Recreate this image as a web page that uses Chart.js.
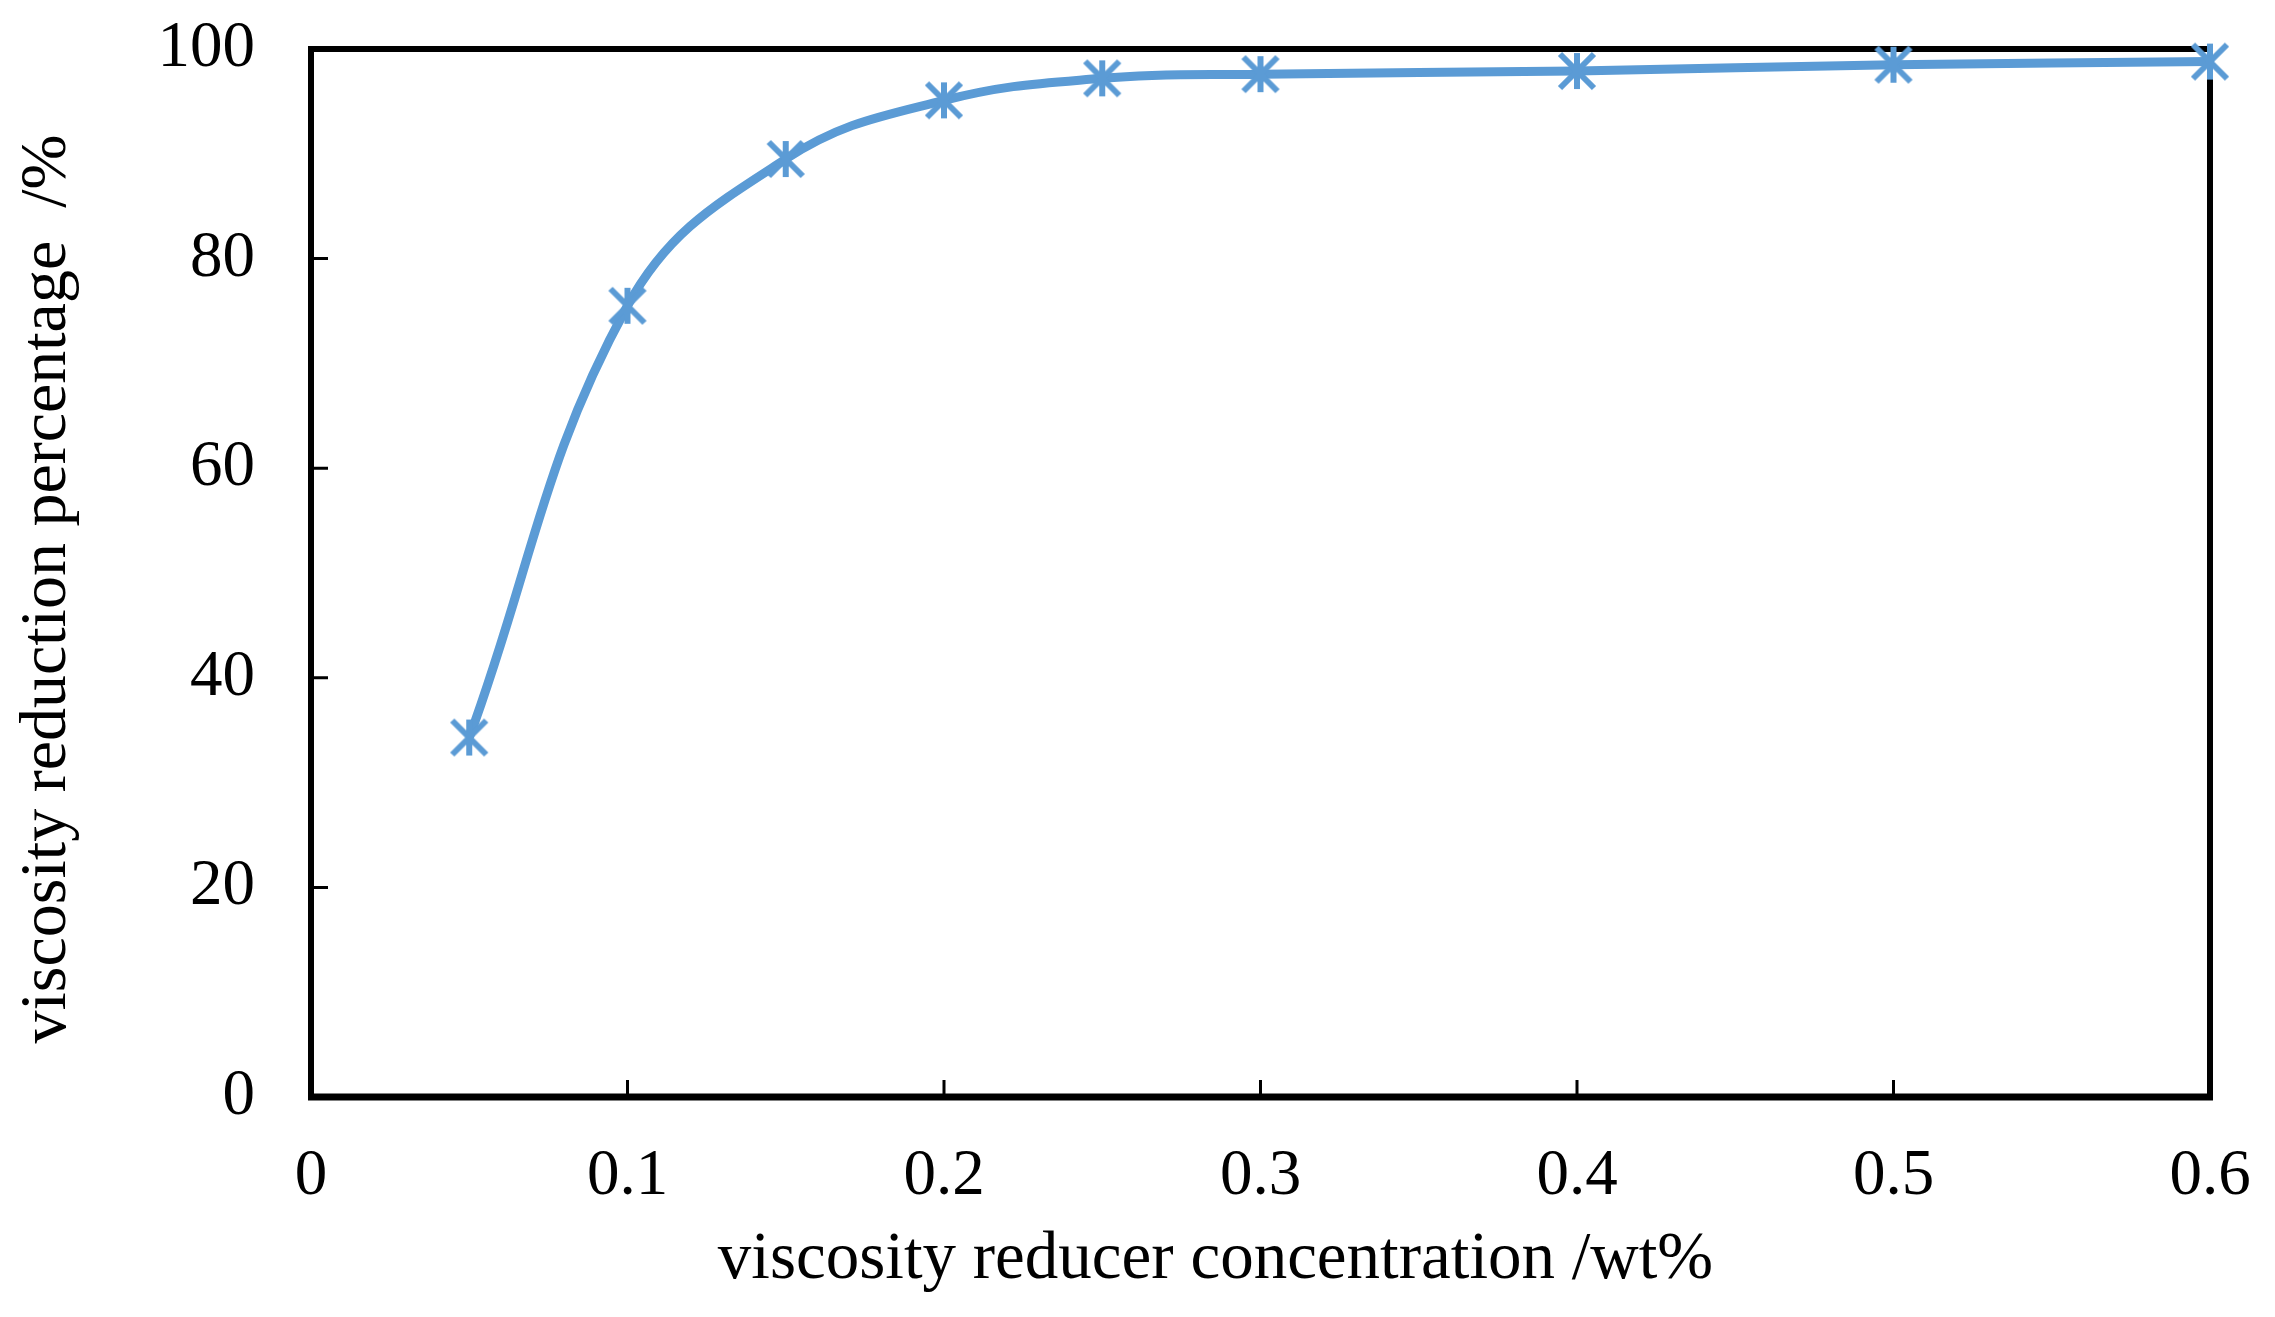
<!DOCTYPE html>
<html>
<head>
<meta charset="utf-8">
<script src="https://cdn.jsdelivr.net/npm/chart.js@4.4.1/dist/chart.umd.min.js"></script>
<style>
  html, body { margin: 0; padding: 0; background: #ffffff; }
  #wrap { width: 2275px; height: 1317px; }
</style>
</head>
<body>
<div id="wrap"><canvas id="c" width="2275" height="1317"></canvas></div>
<script>
// ---- data ----
const concentrations = [0.05, 0.1, 0.15, 0.2, 0.25, 0.3, 0.4, 0.5, 0.6];
const reductionPct   = [34.3, 75.5, 89.5, 95.1, 97.2, 97.6, 97.9, 98.5, 98.8];
const xTickValues = [0, 0.1, 0.2, 0.3, 0.4, 0.5, 0.6];
const xTickLabels = ['0', '0.1', '0.2', '0.3', '0.4', '0.5', '0.6'];
const yTickValues = [0, 20, 40, 60, 80, 100];
const yTickLabels = ['0', '20', '40', '60', '80', '100'];
const xTitle = 'viscosity reducer concentration /wt%';
const yTitle = 'viscosity reduction percentage  /%';

const BLUE = '#5B9BD5';
const FONT = '"Liberation Serif", "Times New Roman", serif';

// asterisk marker image
function makeAsterisk() {
  const s = 48, c = s / 2;
  const cv = document.createElement('canvas');
  cv.width = s; cv.height = s;
  const g = cv.getContext('2d');
  g.strokeStyle = BLUE;
  g.lineWidth = 6;
  g.lineCap = 'butt';
  g.beginPath();
  g.moveTo(c, c - 18); g.lineTo(c, c + 18);
  g.moveTo(c - 17, c - 17); g.lineTo(c + 17, c + 17);
  g.moveTo(c + 17, c - 17); g.lineTo(c - 17, c + 17);
  g.stroke();
  return cv;
}
const marker = makeAsterisk();

const framePlugin = {
  id: 'frame',
  beforeDatasetsDraw(chart) {
    const { ctx, chartArea: a, scales } = chart;
    ctx.save();
    ctx.strokeStyle = '#000';
    ctx.lineWidth = 3;
    ctx.beginPath();
    yTickValues.forEach(v => {
      if (v === 0 || v === 100) return;
      const y = scales.y.getPixelForValue(v);
      ctx.moveTo(a.left, y); ctx.lineTo(a.left + 17, y);
    });
    xTickValues.forEach(v => {
      if (v === 0 || v === 0.6) return;
      const x = scales.x.getPixelForValue(v);
      ctx.moveTo(x, a.bottom); ctx.lineTo(x, a.bottom - 17);
    });
    ctx.stroke();
    ctx.lineWidth = 6;
    ctx.strokeRect(a.left, a.top, a.right - a.left, a.bottom - a.top);
    ctx.lineWidth = 7;
    ctx.beginPath();
    ctx.moveTo(a.left - 3, a.bottom); ctx.lineTo(a.right + 3, a.bottom);
    ctx.stroke();
    ctx.restore();
  },
  afterDraw(chart) {
    const { ctx, chartArea: a } = chart;
    ctx.save();
    ctx.fillStyle = '#000';
    ctx.textAlign = 'center';
    ctx.textBaseline = 'middle';
    // x-axis title
    ctx.font = '67px ' + FONT;
    ctx.fillText(xTitle, (a.left + a.right) / 2 - 45, 1260);
    // y-axis title
    ctx.font = '66px ' + FONT;
    ctx.translate(48, (a.top + a.bottom) / 2 + 16);
    ctx.rotate(-Math.PI / 2);
    ctx.fillText(yTitle, 0, 0);
    ctx.restore();
  }
};

new Chart(document.getElementById('c'), {
  type: 'line',
  data: {
    datasets: [{
      data: concentrations.map((x, i) => ({ x: x, y: reductionPct[i] })),
      borderColor: BLUE,
      backgroundColor: BLUE,
      borderWidth: 9,
      tension: 0.4,
      pointStyle: marker,
      pointRadius: 18,
      clip: false,
      fill: false
    }]
  },
  options: {
    responsive: false,
    animation: false,
    devicePixelRatio: 1,
    layout: { padding: { left: 0, top: 49, right: 65, bottom: 0 } },
    plugins: { legend: { display: false }, tooltip: { enabled: false } },
    scales: {
      x: {
        type: 'linear',
        min: 0, max: 0.6,
        afterBuildTicks: s => { s.ticks = xTickValues.map(v => ({ value: v })); },
        afterFit: s => { s.height = 220; },
        grid: { display: false, drawTicks: true, tickLength: 41 },
        border: { display: false },
        ticks: {
          padding: 0,
          color: '#000',
          font: { family: FONT, size: 65 },
          maxRotation: 0,
          callback: (v, i) => xTickLabels[i]
        },
        title: { display: false }
      },
      y: {
        type: 'linear',
        min: 0, max: 100,
        afterBuildTicks: s => { s.ticks = yTickValues.map(v => ({ value: v })); },
        afterFit: s => { s.width = 311; },
        grid: { display: false, drawTicks: true, tickLength: 56 },
        border: { display: false },
        ticks: {
          padding: 0,
          color: '#000',
          font: { family: FONT, size: 65 },
          callback: (v, i) => yTickLabels[i]
        },
        title: { display: false }
      }
    }
  },
  plugins: [framePlugin]
});
</script>
</body>
</html>
